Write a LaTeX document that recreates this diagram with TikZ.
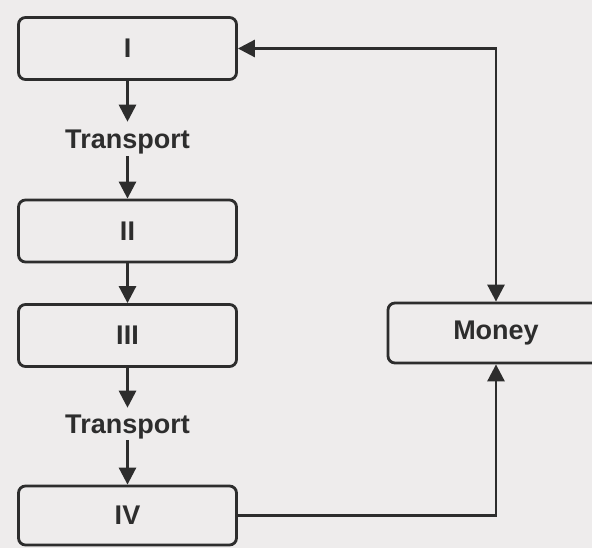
\documentclass[tikz,border=0pt]{standalone}
\usepackage{fontspec}
\setmainfont{Liberation Sans}
\usetikzlibrary{arrows.meta}
\definecolor{ink}{RGB}{45,45,45}
\definecolor{paper}{RGB}{238,236,236}
\begin{document}
\begin{tikzpicture}[x=1pt,y=-1pt,
  box/.style={draw=ink, line width=2.8pt, rounded corners=7pt, minimum width=218pt,
    minimum height=62pt, inner sep=0pt, font=\fontsize{27}{31}\selectfont\bfseries, text=ink},
  lbl/.style={font=\fontsize{27}{31}\selectfont\bfseries, text=ink, inner sep=1.5pt},
  conn/.style={draw=ink, line width=2.8pt, -{Triangle[length=17pt,width=17pt]}},
  both/.style={draw=ink, line width=2.8pt, {Triangle[length=17pt,width=17pt]}-{Triangle[length=17pt,width=17pt]}},
]
\fill[paper] (0,0) rectangle (592,548);
\useasboundingbox (0,0) rectangle (592,548);
\node[box] (I) at (127.5,48.5) {I};
\node[box] (II) at (127.5,231) {II};
\node[box] (III) at (127.5,335.5) {III};
\node[box, minimum height=59pt] (IV) at (127.5,515.5) {IV};
\node[box, minimum width=216pt, minimum height=60pt] (M) at (496,333) {Money};
\node[lbl, anchor=base] (t1) at (127.5,149) {Transport};
\node[lbl, anchor=base] (t2) at (127.5,433) {Transport};
\draw[conn, shorten >=7pt] (I.south) -- (t1.north);
\draw[conn] (t1.south) -- (II.north);
\draw[conn] (II.south) -- (III.north);
\draw[conn, shorten >=5pt] (III.south) -- (t2.north);
\draw[conn] (t2.south) -- (IV.north);
\draw[both] (I.east) -| (M.north);
\draw[conn] (IV.east) -| (M.south);
\end{tikzpicture}
\end{document}
